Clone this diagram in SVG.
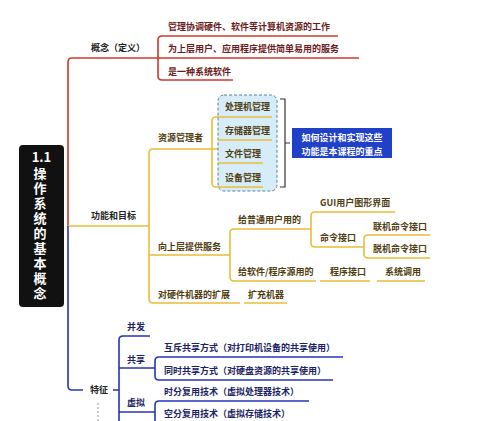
<svg xmlns="http://www.w3.org/2000/svg" width="500" height="421" viewBox="0 0 500 421">
<style>
text{font-family:"Noto Sans CJK SC","Noto Sans",sans-serif;font-size:9px;font-weight:700}
.r{stroke:#d0382b;stroke-width:1.6;fill:none}
.y{stroke:#e9bc3a;stroke-width:1.6;fill:none}
.b{stroke:#2434b8;stroke-width:1.6;fill:none}
.tr{fill:#6a1a1a}
.ty{fill:#4f3d10}
.tb{fill:#1b2366}
.tk{fill:#222}
.root{fill:#fff;font-size:13px}
.vert{writing-mode:vertical-rl;letter-spacing:2px}
</style>
<rect width="500" height="421" fill="#fff"/>
<g id="connectors">
<path class="r" d="M68 226V62Q68 58 72 58H158"/>
<path class="r" d="M338 36H162Q158 36 158 40V76Q158 80 162 80H233M158 58H359"/>
<path class="y" d="M68 226H149"/>
<path class="y" d="M212 149H153Q149 149 149 153V299Q149 303 153 303H240M149 255H230"/>
<path class="y" d="M244 303H287"/>
<path class="y" d="M218 117H216Q212 117 212 121V183Q212 187 216 187H218M212 149H218"/>
<path class="y" d="M311 229H234Q230 229 230 233V277Q230 281 234 281H316"/>
<path class="y" d="M320 281H370M377 281H425"/>
<path class="y" d="M395 212H315Q311 212 311 216V243Q311 247 315 247H364"/>
<path class="y" d="M430 235H368Q364 235 364 239V254Q364 258 368 258H430"/>
<path class="b" d="M68 226V386Q68 390 72 390H83M113 390H119"/>
<path class="b" d="M150 336H123Q119 336 119 340V430M119 368H155M119 412H155"/>
<path class="b" d="M343 357H159Q155 357 155 361V376Q155 380 159 380H333"/>
<path class="b" d="M309 401H159Q155 401 155 405V430"/>
<path d="M98 403V421" stroke="#999" stroke-width="1" stroke-dasharray="2,2" fill="none"/>
<path d="M280 99H285V187H280M285 143H290" stroke="#333" stroke-width="1.2" fill="none"/>
</g>
<g id="root">
<rect x="19" y="145" width="45" height="162" rx="4" fill="#111"/>
<text class="root" x="41.5" y="162" text-anchor="middle">1.1</text>
<text class="root vert" x="40" y="166.5">操作系统的基本概念</text>
</g>
<g id="concept"><text class="tk" x="91" y="51">概念（定义）</text></g>
<g id="c1"><text class="tr" x="168" y="30">管理协调硬件、软件等计算机资源的工作</text></g>
<g id="c2"><text class="tr" x="168" y="52">为上层用户、应用程序提供简单易用的服务</text></g>
<g id="c3"><text class="tr" x="168" y="75">是一种系统软件</text></g>
<g id="func"><text class="tk" x="91" y="219">功能和目标</text></g>
<g id="res"><text class="ty" x="158" y="141">资源管理者</text></g>
<g id="resbox">
<rect x="218" y="95" width="59" height="96" rx="6" fill="#d6ecf8" stroke="#5f7f9c" stroke-width="1" stroke-dasharray="3,2"/>
<path class="y" d="M218 117H272M218 140H272M218 163H263M218 187H263"/>
<text class="ty" x="225" y="110">处理机管理</text>
<text class="ty" x="225" y="134">存储器管理</text>
<text class="ty" x="225" y="157">文件管理</text>
<text class="ty" x="225" y="181">设备管理</text>
</g>
<g id="note">
<rect x="292" y="128" width="100" height="30" fill="#2140c8"/>
<text x="342" y="140.5" fill="#fff" text-anchor="middle">如何设计和实现这些<tspan x="342" dy="14">功能是本课程的重点</tspan></text>
</g>
<g id="up"><text class="ty" x="158" y="250">向上层提供服务</text></g>
<g id="user"><text class="ty" x="238" y="223">给普通用户用的</text></g>
<g id="gui"><text class="ty" x="320" y="206">GUI用户图形界面</text></g>
<g id="cmd"><text class="ty" x="320" y="241">命令接口</text></g>
<g id="online"><text class="ty" x="373" y="230">联机命令接口</text></g>
<g id="offline"><text class="ty" x="373" y="252">脱机命令接口</text></g>
<g id="prog"><text class="ty" x="238" y="275">给软件/程序源用的</text></g>
<g id="api"><text class="ty" x="330" y="275">程序接口</text></g>
<g id="syscall"><text class="ty" x="385" y="275">系统调用</text></g>
<g id="ext"><text class="ty" x="158" y="298">对硬件机器的扩展</text></g>
<g id="extm"><text class="ty" x="248" y="298">扩充机器</text></g>
<g id="feat"><text class="tk" x="90" y="393">特征</text></g>
<g id="conc"><text class="tb" x="127" y="330">并发</text></g>
<g id="share"><text class="tb" x="127" y="363">共享</text></g>
<g id="s1"><text class="tb" x="164" y="351">互斥共享方式（对打印机设备的共享使用）</text></g>
<g id="s2"><text class="tb" x="164" y="374">同时共享方式（对硬盘资源的共享使用）</text></g>
<g id="virt"><text class="tb" x="127" y="406">虚拟</text></g>
<g id="v1"><text class="tb" x="164" y="395">时分复用技术（虚拟处理器技术）</text></g>
<g id="v2"><text class="tb" x="164" y="417">空分复用技术（虚拟存储技术）</text></g>
</svg>
